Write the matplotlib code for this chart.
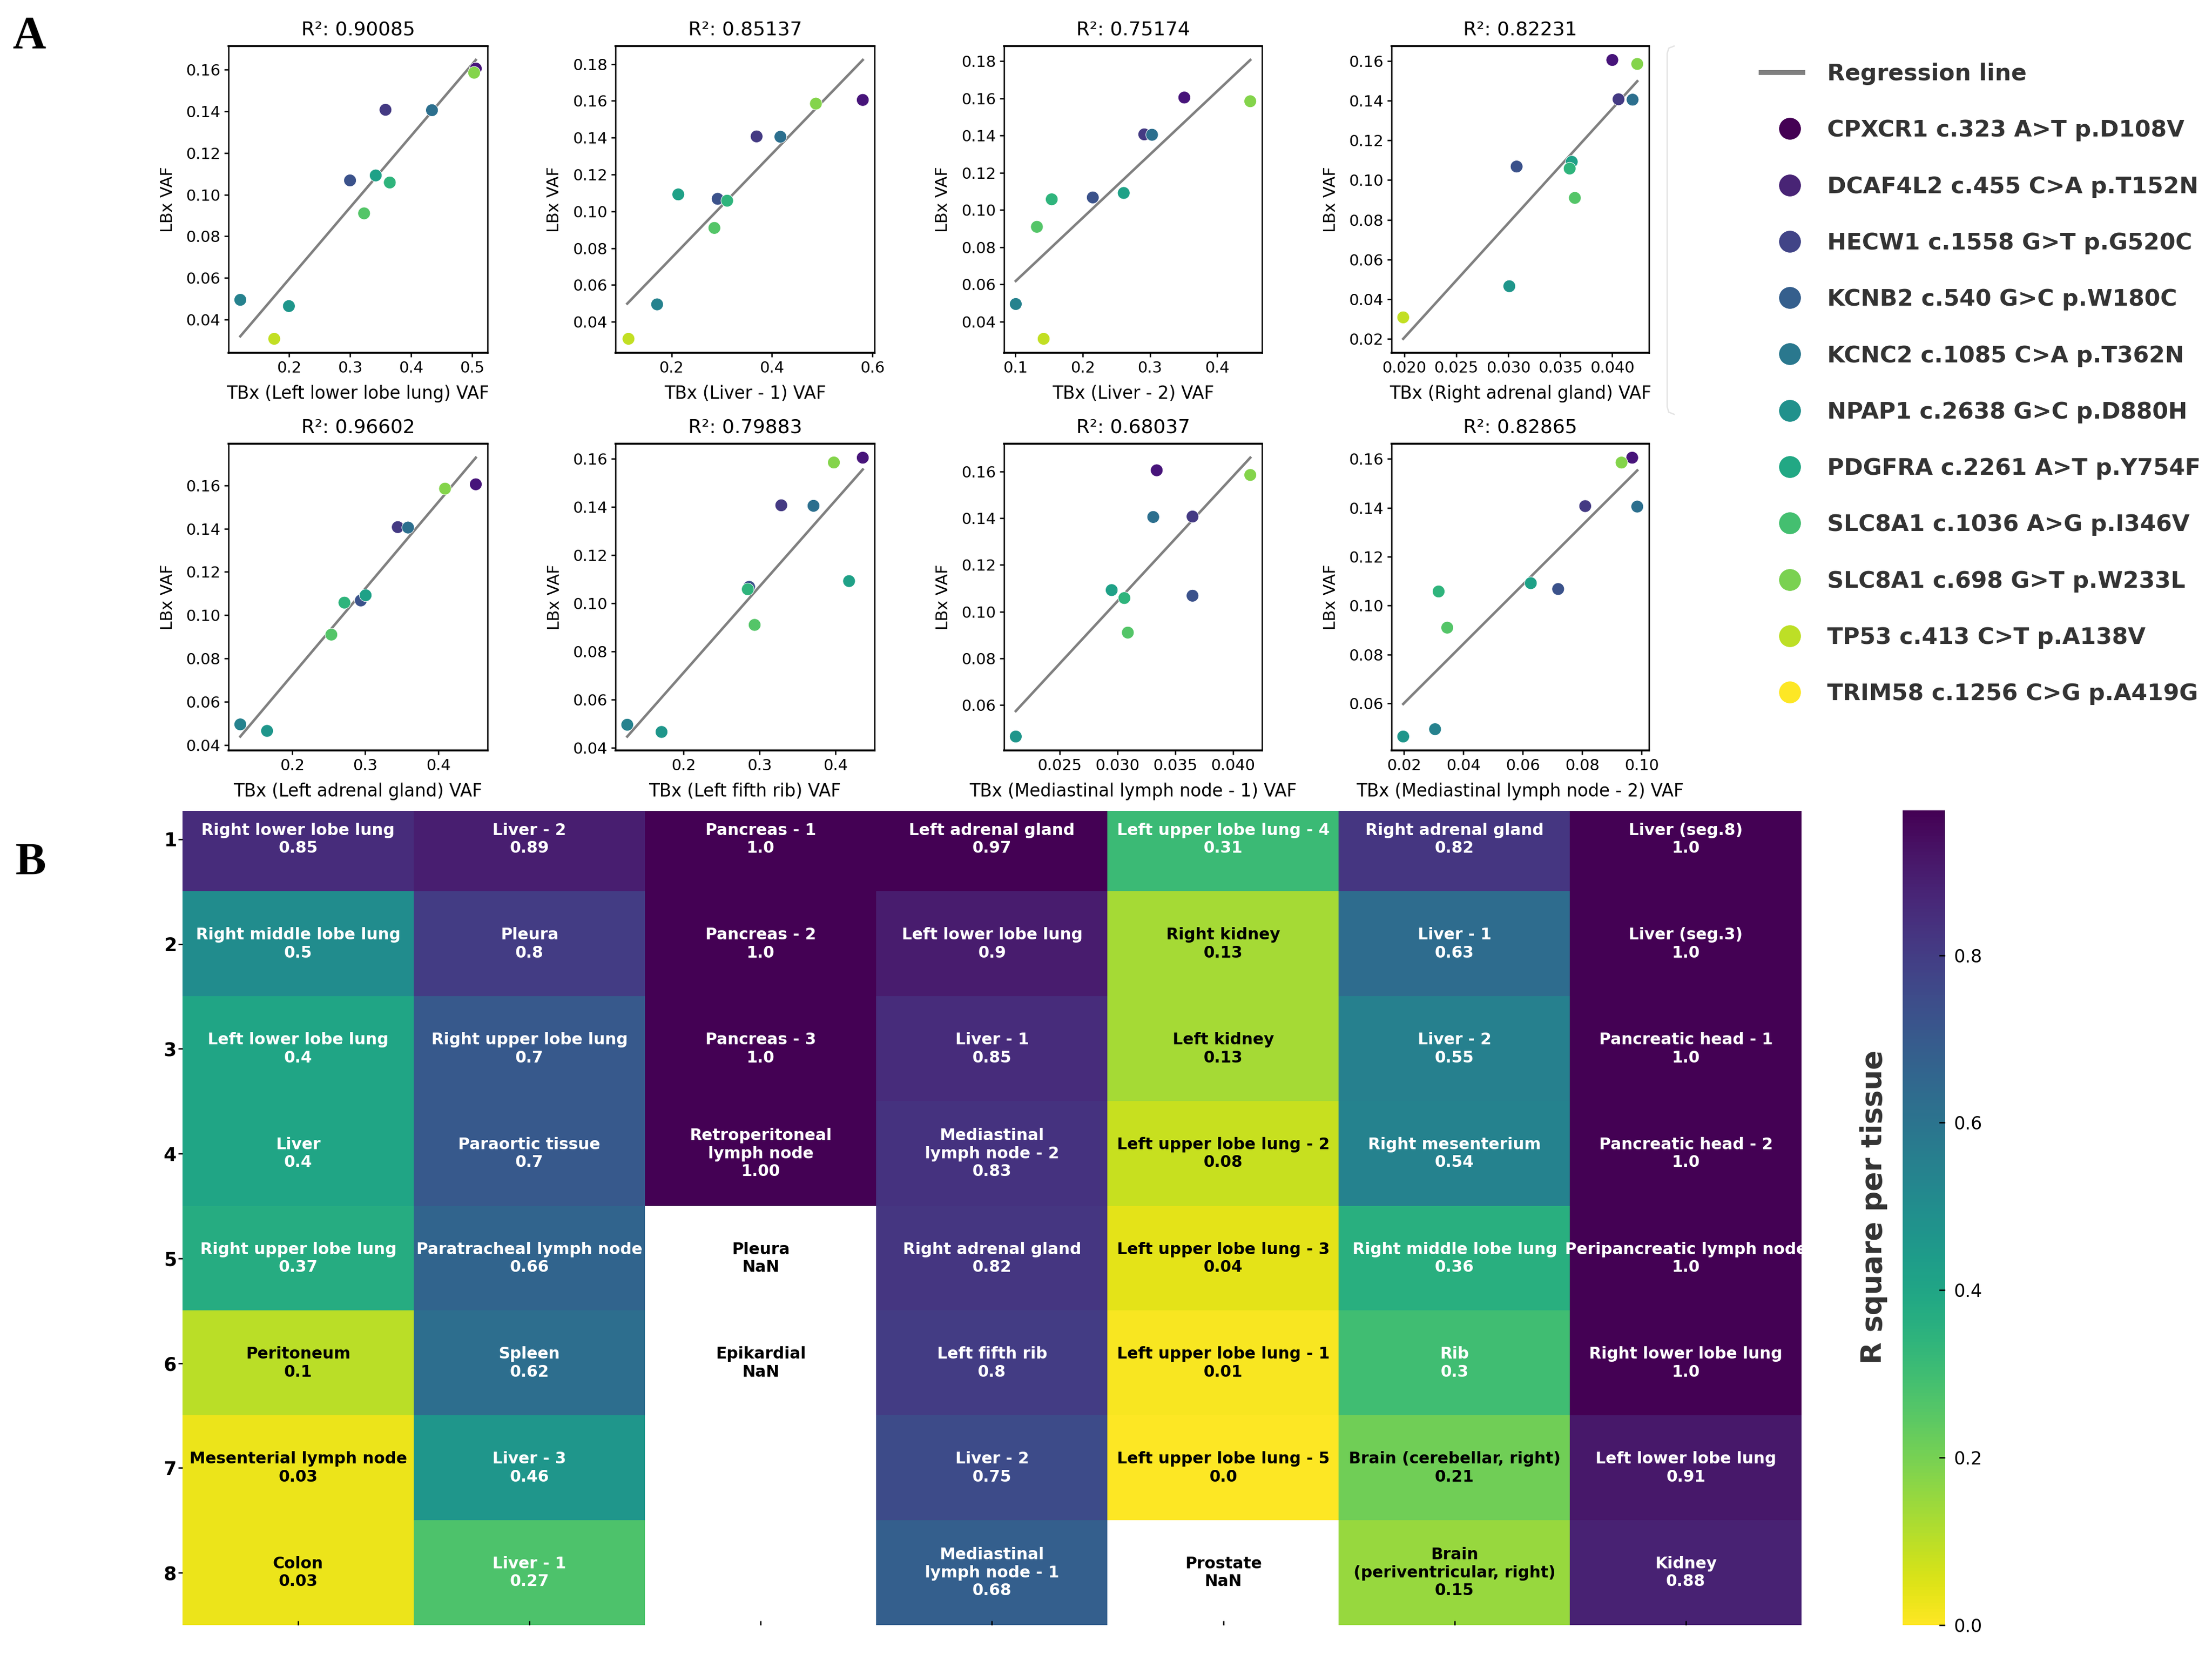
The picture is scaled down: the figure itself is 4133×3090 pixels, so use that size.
#Import libraries
import numpy as np
import matplotlib
matplotlib.use('Agg')
import matplotlib.pyplot as plt
from matplotlib.lines import Line2D
from matplotlib.legend_handler import HandlerLine2D

W, H = 4133, 3090
nan = np.nan

mutations = ['CPXCR1 c.323 A>T p.D108V', 'DCAF4L2 c.455 C>A p.T152N', 'HECW1 c.1558 G>T p.G520C',
             'KCNB2 c.540 G>C p.W180C', 'KCNC2 c.1085 C>A p.T362N', 'NPAP1 c.2638 G>C p.D880H',
             'PDGFRA c.2261 A>T p.Y754F', 'SLC8A1 c.1036 A>G p.I346V', 'SLC8A1 c.698 G>T p.W233L',
             'TP53 c.413 C>T p.A138V', 'TRIM58 c.1256 C>G p.A419G']

# one LBx VAF per colour of the scatter panels
lbx_vaf = [0.1605, 0.1407, 0.1068, 0.1405, 0.0495, 0.0465, 0.1092, 0.1058, 0.0910, 0.1585, 0.0308]

# TBx VAF per panel, same order as lbx_vaf, nan where the point is missing
tbx_left_lower_lobe = [0.5057, 0.358, 0.300, 0.434, 0.1205, 0.200, 0.342, 0.365, 0.323, 0.503, 0.176]
tbx_liver_1 = [0.581, 0.3696, 0.292, 0.417, 0.1715, nan, 0.2136, 0.311, 0.2855, 0.4877, 0.1145]
tbx_liver_2 = [0.351, 0.2915, 0.215, 0.303, 0.1006, nan, 0.261, 0.154, 0.132, 0.449, 0.142]
tbx_right_adrenal = [0.0400, 0.0406, 0.0308, 0.04195, nan, 0.0301, 0.0361, 0.0359, 0.0364, 0.0424, 0.0199]
tbx_left_adrenal = [0.4516, 0.3446, 0.2939, 0.3587, 0.1286, 0.1653, 0.3005, 0.2714, 0.2535, 0.4094, nan]
tbx_left_rib = [0.436, 0.3288, 0.2865, 0.3712, 0.1261, 0.1712, 0.418, 0.2847, 0.2937, 0.398, nan]
tbx_mediastinal_1 = [0.0334, 0.0365, 0.0365, 0.0331, nan, 0.0212, 0.0295, 0.0306, 0.0309, 0.0415, nan]
tbx_mediastinal_2 = [0.0968, 0.081, 0.0719, 0.0985, 0.0305, 0.0198, 0.0627, 0.0317, 0.0346, 0.0932, nan]

panel_x = [tbx_left_lower_lobe, tbx_liver_1, tbx_liver_2, tbx_right_adrenal,
           tbx_left_adrenal, tbx_left_rib, tbx_mediastinal_1, tbx_mediastinal_2]
panel_names = ['Left lower lobe lung', 'Liver - 1', 'Liver - 2', 'Right adrenal gland',
               'Left adrenal gland', 'Left fifth rib', 'Mediastinal lymph node - 1', 'Mediastinal lymph node - 2']
panel_r2 = ['0.90085', '0.85137', '0.75174', '0.82231', '0.96602', '0.79883', '0.68037', '0.82865']

# regression line ends
reg_x = [(0.1205, 0.5057), (0.112, 0.581), (0.1006, 0.449), (0.0199, 0.0424),
         (0.1286, 0.4516), (0.1261, 0.436), (0.0212, 0.0415), (0.0198, 0.0985)]
reg_y = [(0.032, 0.1646), (0.0499, 0.1822), (0.0619, 0.1807), (0.020, 0.1498),
         (0.0439, 0.1728), (0.0446, 0.1556), (0.0574, 0.1659), (0.0598, 0.1553)]

# heatmap, one list per column
col1_tissue = ['Right lower lobe lung', 'Right middle lobe lung', 'Left lower lobe lung', 'Liver',
               'Right upper lobe lung', 'Peritoneum', 'Mesenterial lymph node', 'Colon']
col1_r2 = ['0.85', '0.5', '0.4', '0.4', '0.37', '0.1', '0.03', '0.03']
col2_tissue = ['Liver - 2', 'Pleura', 'Right upper lobe lung', 'Paraortic tissue',
               'Paratracheal lymph node', 'Spleen', 'Liver - 3', 'Liver - 1']
col2_r2 = ['0.89', '0.8', '0.7', '0.7', '0.66', '0.62', '0.46', '0.27']
col3_tissue = ['Pancreas - 1', 'Pancreas - 2', 'Pancreas - 3', 'Retroperitoneal\nlymph node',
               'Pleura', 'Epikardial', '', '']
col3_r2 = ['1.0', '1.0', '1.0', '1.00', 'NaN', 'NaN', '', '']
col4_tissue = ['Left adrenal gland', 'Left lower lobe lung', 'Liver - 1', 'Mediastinal\nlymph node - 2',
               'Right adrenal gland', 'Left fifth rib', 'Liver - 2', 'Mediastinal\nlymph node - 1']
col4_r2 = ['0.97', '0.9', '0.85', '0.83', '0.82', '0.8', '0.75', '0.68']
col5_tissue = ['Left upper lobe lung - 4', 'Right kidney', 'Left kidney', 'Left upper lobe lung - 2',
               'Left upper lobe lung - 3', 'Left upper lobe lung - 1', 'Left upper lobe lung - 5', 'Prostate']
col5_r2 = ['0.31', '0.13', '0.13', '0.08', '0.04', '0.01', '0.0', 'NaN']
col6_tissue = ['Right adrenal gland', 'Liver - 1', 'Liver - 2', 'Right mesenterium',
               'Right middle lobe lung', 'Rib', 'Brain (cerebellar, right)', 'Brain\n(periventricular, right)']
col6_r2 = ['0.82', '0.63', '0.55', '0.54', '0.36', '0.3', '0.21', '0.15']
col7_tissue = ['Liver (seg.8)', 'Liver (seg.3)', 'Pancreatic head - 1', 'Pancreatic head - 2',
               'Peripancreatic lymph node', 'Right lower lobe lung', 'Left lower lobe lung', 'Kidney']
col7_r2 = ['1.0', '1.0', '1.0', '1.0', '1.0', '1.0', '0.91', '0.88']

tissue_cols = [col1_tissue, col2_tissue, col3_tissue, col4_tissue, col5_tissue, col6_tissue, col7_tissue]
r2_cols = [col1_r2, col2_r2, col3_r2, col4_r2, col5_r2, col6_r2, col7_r2]
row_labels = ['1', '2', '3', '4', '5', '6', '7', '8']
cbar_ticks = [0.0, 0.2, 0.4, 0.6, 0.8]


def to_float(s):
    return float(s) if s not in ('', 'NaN') else nan


def add_ax(fig, left, top, right, bottom):
    # axes placed in pixels of the final png
    return fig.add_axes([left / W, 1 - bottom / H, (right - left) / W, (bottom - top) / H])


fig = plt.figure(figsize=(W / 100, H / 100), dpi=100)

lefts = [427, 1150, 1876, 2600]
rights = [911, 1634, 2358, 3081]
tops = [86, 829]
bottoms = [659, 1402]
# colours as they look in the panels, not evenly spaced along viridis
point_colors = ['#47147a', '#443a83', '#3b528b', '#2c6f8e', '#26828e', '#1f968b',
                '#1fa187', '#2fb47c', '#54c568', '#84d44b', '#c2df23']
legend_colors = [plt.cm.viridis(i / 10) for i in range(11)]

for i in range(8):
    row, col = divmod(i, 4)
    ax = add_ax(fig, lefts[col], tops[row], rights[col], bottoms[row])
    ax.plot(reg_x[i], reg_y[i], color='gray', lw=3.4, zorder=2)
    ax.scatter(panel_x[i], lbx_vaf, c=point_colors, s=280, edgecolor='white', linewidth=0.7, zorder=3)
    ax.set_title(f'R\u00b2: {panel_r2[i]}', fontsize=26, pad=15)
    ax.set_xlabel(f'TBx ({panel_names[i]}) VAF', fontsize=23.5, labelpad=12)
    ax.set_ylabel('LBx VAF', fontsize=22, labelpad=14)
    ax.tick_params(labelsize=21, length=6, width=1.8, pad=5)
    for spine in ax.spines.values():
        spine.set_linewidth(1.8)
    ax.spines['top'].set_linewidth(2.6)
    ax.spines['bottom'].set_linewidth(2.6)

# legend of panel A, xpad pushes the dots right of the line's centre
handles = [Line2D([], [], color='gray', lw=6.5)]
labels = ['Regression line']
dot_handler = {}
for name, c in zip(mutations, legend_colors):
    dot = Line2D([], [], ls='', marker='o', ms=30, mfc=c, mec='white', mew=0.6)
    dot_handler[dot] = HandlerLine2D(xpad=0.7)
    handles.append(dot)
    labels.append(name)
fig.legend(handles, labels, loc='upper left', bbox_to_anchor=(3290 / W, 1 - 117 / H), frameon=False,
           prop={'weight': 'bold', 'size': 30.9}, labelcolor='#333333', handler_map=dot_handler,
           handlelength=1.81, handletextpad=1.09, labelspacing=1.475, borderpad=0, borderaxespad=0)

# faint bracket right of the top row
fig.add_artist(Line2D(np.array([3128, 3118, 3115, 3115, 3118, 3128]) / W,
                      1 - np.array([86, 90, 100, 760, 770, 774]) / H, color='#e4e4e4', lw=1.8))

# heatmap of panel B, the first row is cut off at the top like in the original
heat_ax = add_ax(fig, 341, 1515, 3366, 3036)
values = np.array([[to_float(s) for s in col] for col in r2_cols]).T
im = heat_ax.imshow(values, cmap='viridis_r', vmin=0, vmax=0.973, aspect='auto')
heat_ax.set_ylim(7.5, -0.27)
for c in range(7):
    for r in range(8):
        if tissue_cols[c][r] == '':
            continue
        v = values[r, c]
        color = 'white' if v > 0.25 else 'black'
        heat_ax.text(c, r, tissue_cols[c][r] + '\n' + r2_cols[c][r], ha='center', va='center',
                     fontsize=21.5, linespacing=1.2, fontweight='bold', color=color, clip_on=True)
heat_ax.set_xticks(range(7))
heat_ax.set_xticklabels([])
heat_ax.set_yticks(range(8))
heat_ax.set_yticklabels(row_labels, fontsize=25, fontweight='bold')
heat_ax.tick_params(axis='y', length=6, width=1.8, pad=2)
heat_ax.tick_params(axis='x', direction='in', length=6, width=1.8)
for spine in heat_ax.spines.values():
    spine.set_visible(False)

# colorbar sits apart, label on its left
cax = add_ax(fig, 3555, 1514, 3634, 3036)
cb = fig.colorbar(im, cax=cax)
cb.outline.set_visible(False)
cb.set_ticks(cbar_ticks)
cax.tick_params(labelsize=24, direction='in', length=8, width=1.8, pad=12)
cax.yaxis.set_label_position('left')
cb.set_label('R square per tissue', fontweight='bold', fontsize=38.5, color='#333333', labelpad=20, y=0.513)

# panel letters
fig.text(23 / W, 1 - 89 / H, 'A', family='Liberation Serif', fontweight='bold', fontsize=62)
fig.text(29 / W, 1 - 1634 / H, 'B', family='Liberation Serif', fontweight='bold', fontsize=62)

fig.savefig('out.png', dpi=100)
